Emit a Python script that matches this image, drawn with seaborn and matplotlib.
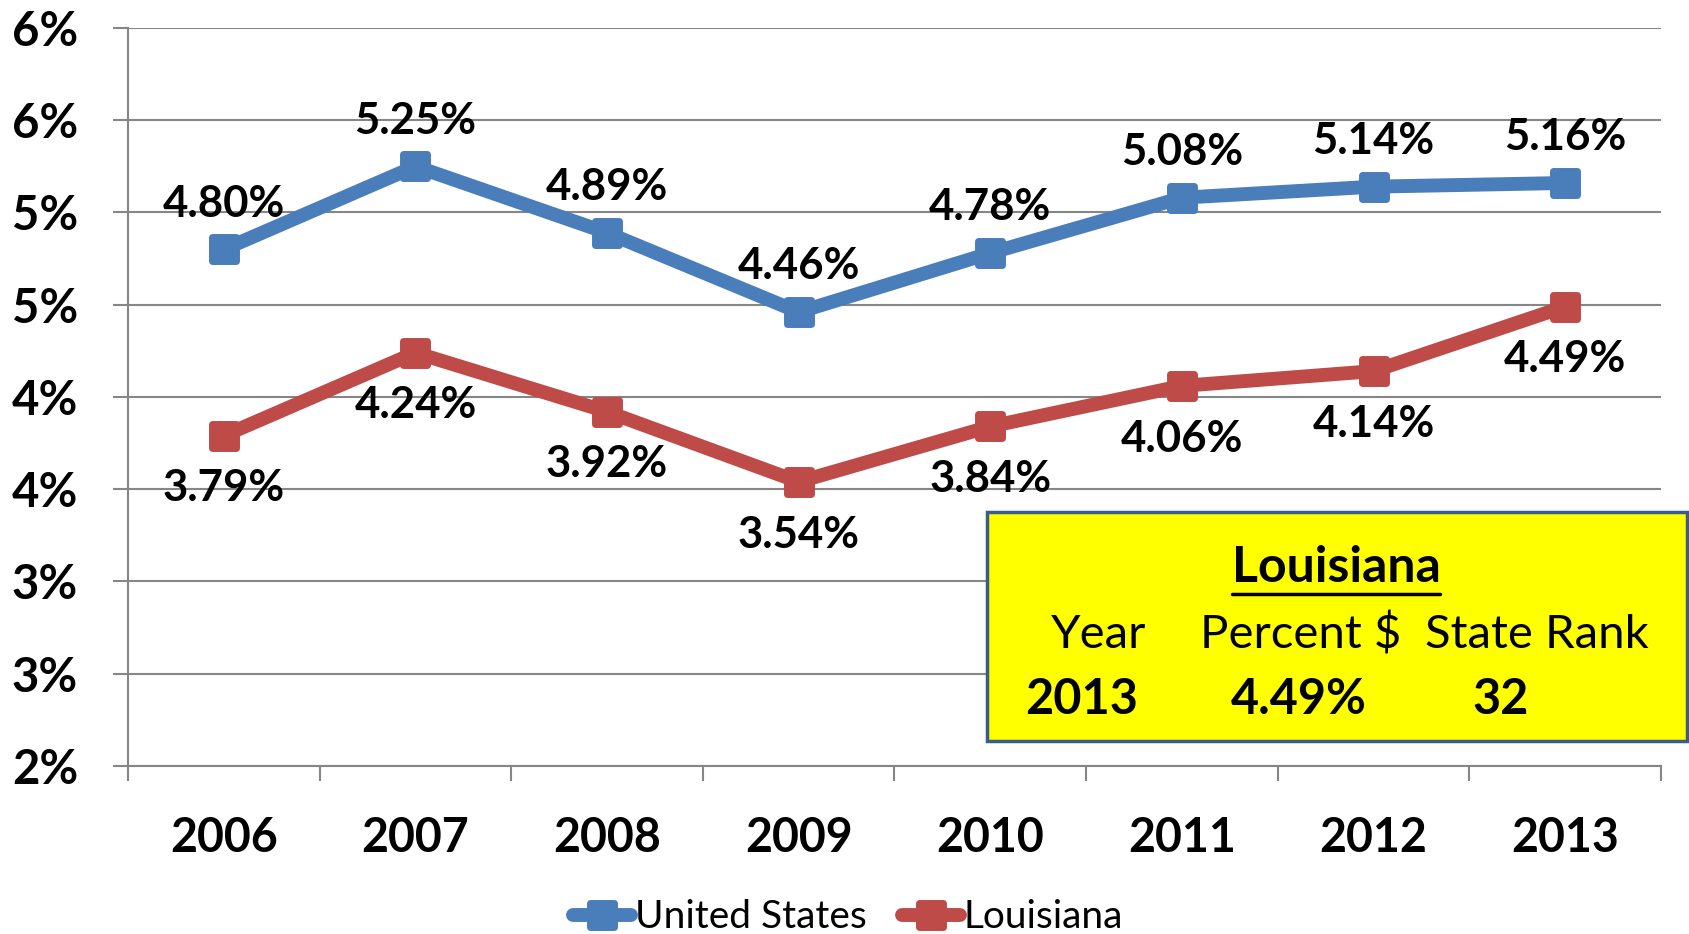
import pandas as pd
import matplotlib.pyplot as plt
import seaborn as sns
from matplotlib.markers import MarkerStyle
from matplotlib.patches import Rectangle
from matplotlib.lines import Line2D

sns.set_style("white")
plt.rcParams['font.family'] = ['Lato', 'DejaVu Sans']
plt.rcParams['text.color'] = 'black'
plt.rcParams['xtick.color'] = 'black'
plt.rcParams['ytick.color'] = 'black'

# Data
years = ['2006', '2007', '2008', '2009', '2010', '2011', '2012', '2013']
us_pct = [4.80, 5.25, 4.89, 4.46, 4.78, 5.08, 5.14, 5.16]
la_pct = [3.79, 4.24, 3.92, 3.54, 3.84, 4.06, 4.14, 4.49]
y_ticks = [2.0, 2.5, 3.0, 3.5, 4.0, 4.5, 5.0, 5.5, 6.0]
y_tick_labels = ['2%', '3%', '3%', '4%', '4%', '5%', '5%', '6%', '6%']
box_header = ['Year', 'Percent $', 'State Rank']
box_values = ['2013', '4.49%', '32']

US_COLOR = '#4A7EBB'
LA_COLOR = '#BE4B48'
GRID = '#868686'

df = pd.DataFrame({'Year': years, 'United States': us_pct, 'Louisiana': la_pct})

fig = plt.figure(figsize=(16.89, 9.34), dpi=100)
ax = fig.add_axes([0.0758, 0.180, 0.9076, 0.790])

mk = MarkerStyle('s', joinstyle='round')
for name, color, off in [('United States', US_COLOR, 33), ('Louisiana', LA_COLOR, -38)]:
    sns.lineplot(data=df, x='Year', y=name, ax=ax, color=color, lw=10,
                 marker=mk, markersize=17, markeredgewidth=5, markeredgecolor=color,
                 markerfacecolor=color, label=name, solid_capstyle='round',
                 legend=False, zorder=3)
    for i, v in enumerate(df[name]):
        ax.annotate(f'{v:.2f}%', (i, v), xytext=(0, off), textcoords='offset points',
                    ha='center', va='center', fontsize=31.5, fontweight='bold', zorder=4)

ax.set_xlim(-0.5, len(years) - 0.5)
ax.set_ylim(2.0, 6.0)
ax.set_yticks(y_ticks)
ax.set_yticklabels(y_tick_labels, fontsize=34, fontweight='bold')
ax.yaxis.grid(True, color=GRID, lw=1.5)
ax.tick_params(axis='y', length=11, width=1.5, color=GRID, labelcolor='black', pad=25, left=True)

ax.set_xticks([i - 0.5 for i in range(len(years) + 1)])
ax.set_xticklabels([])
ax.set_xticks(range(len(years)), minor=True)
ax.set_xticklabels(years, minor=True, fontsize=33.5, fontweight='bold')
ax.tick_params(axis='x', which='major', length=11, width=1.5, color=GRID, bottom=True)
ax.tick_params(axis='x', which='minor', length=0, pad=36, labelcolor='black')
ax.set_xlabel('')
ax.set_ylabel('')

for s in ['top', 'right']:
    ax.spines[s].set_visible(False)
for s in ['left', 'bottom']:
    ax.spines[s].set_color(GRID)
    ax.spines[s].set_linewidth(1.5)

# legend
handles = [Line2D([], [], color=US_COLOR, lw=10, marker=mk, ms=17, mew=5, solid_capstyle='round'),
           Line2D([], [], color=LA_COLOR, lw=10, marker=mk, ms=17, mew=5, solid_capstyle='round')]
fig.legend(handles, ['United States', 'Louisiana'], loc='center', bbox_to_anchor=(0.502, 0.018),
           ncol=2, frameon=False, fontsize=28, handlelength=1.5, handletextpad=0.1,
           columnspacing=0.9)

# yellow info box
fig.patches.append(Rectangle((987 / 1689, 1 - 741 / 934), 700 / 1689, 229 / 934,
                             transform=fig.transFigure, facecolor='#FFFF00',
                             edgecolor='#385D8A', lw=2.5, zorder=5))
title = fig.text(1336 / 1689, 1 - 567 / 934, 'Louisiana', ha='center', va='center',
                 fontsize=36, fontweight='bold', zorder=6)
for x, t in zip([1099, 1301, 1537], box_header):
    fig.text(x / 1689, 1 - 635 / 934, t, ha='center', va='center', fontsize=34, zorder=6)
for x, t in zip([1082, 1299, 1501], box_values):
    fig.text(x / 1689, 1 - 699 / 934, t, ha='center', va='center', fontsize=35,
             fontweight='bold', zorder=6)

fig.canvas.draw()
bb = title.get_window_extent().transformed(fig.transFigure.inverted())
uy = bb.y0 - 4 / 934
fig.lines.append(Line2D([bb.x0, bb.x1], [uy, uy], transform=fig.transFigure, color='black',
                        lw=2.5, zorder=6))

fig.savefig('out.png', dpi=100)
